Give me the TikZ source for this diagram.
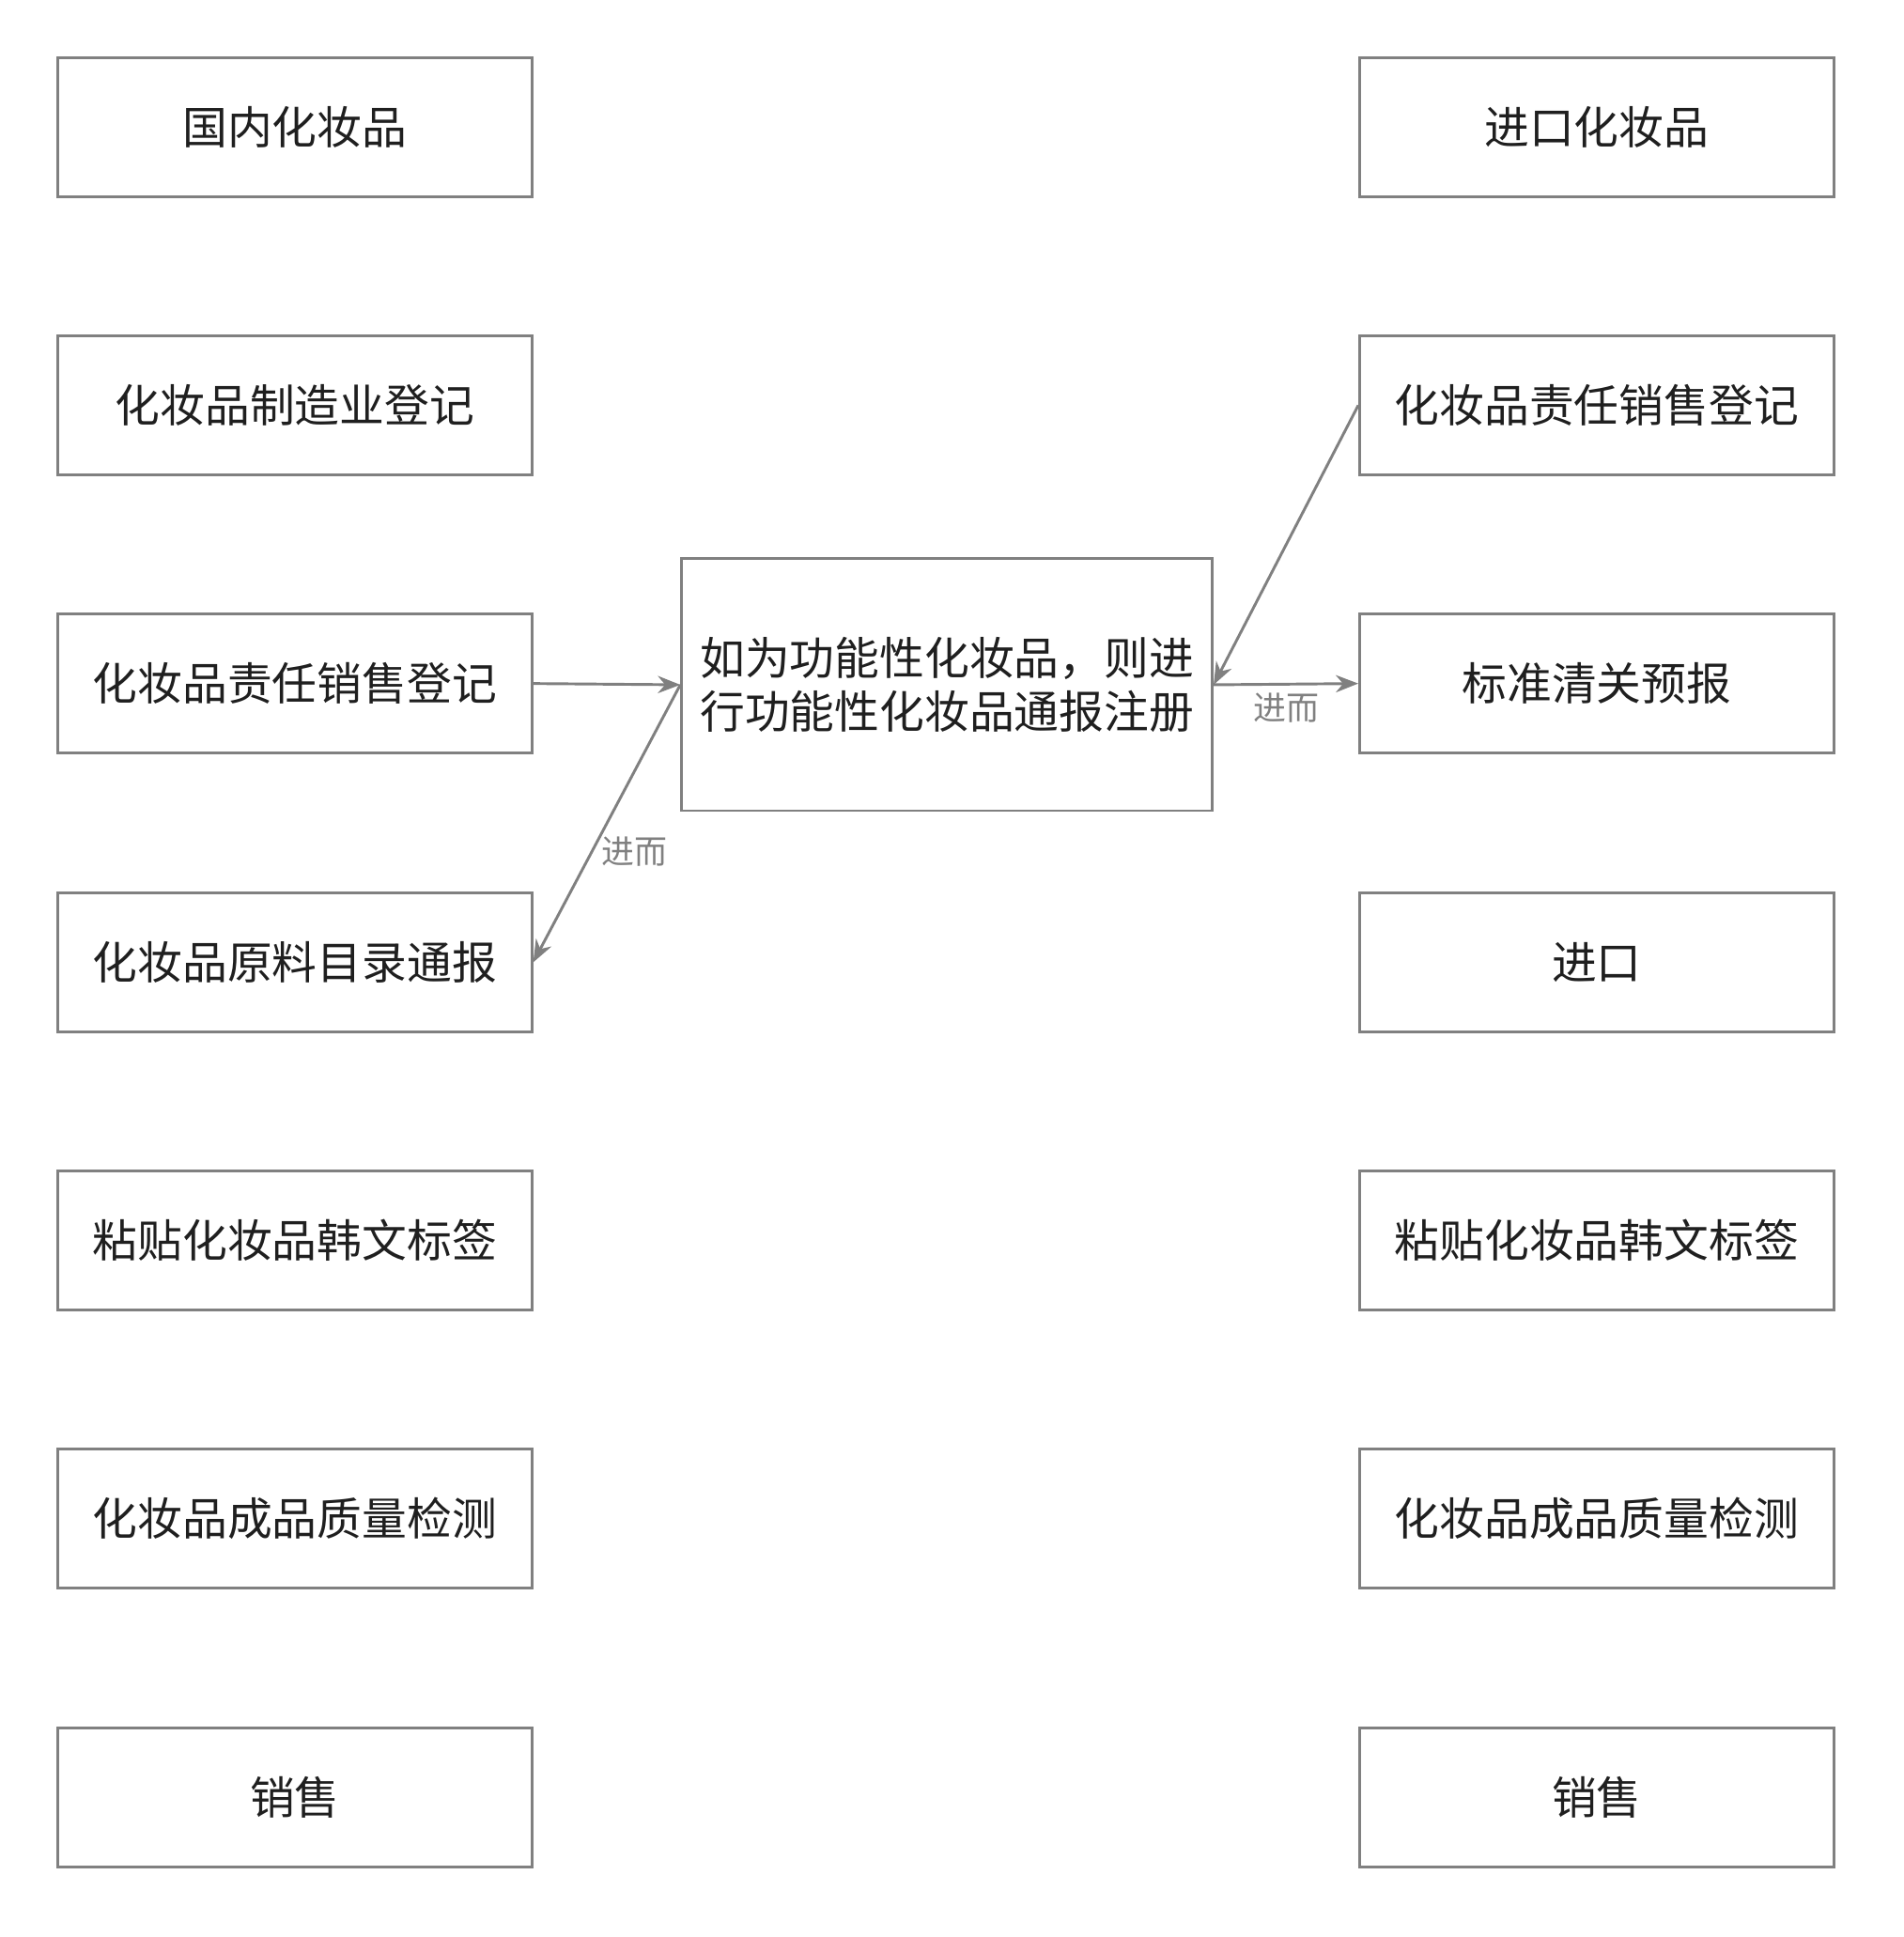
\documentclass[tikz,border=0pt]{standalone}
\usepackage{fontspec}
\setmainfont{Noto Sans CJK SC}
\usetikzlibrary{arrows.meta}
\definecolor{ln}{HTML}{808080}
\definecolor{tx}{HTML}{1F1F1F}
\tikzset{
 bx/.style={draw=ln,line width=3.2pt,minimum width=19.3cm,minimum height=5.65cm,inner sep=0pt,text=tx,font=\fontsize{52}{62}\selectfont},
 ar/.style={draw=ln,line width=3.2pt,-{Stealth[length=26pt,width=20pt]}},
 lb/.style={text=ln,font=\fontsize{38}{44}\selectfont}
}
\begin{document}
\begin{tikzpicture}[x=0.05cm,y=-0.05cm]
\useasboundingbox (0,0) rectangle (1550,1577);
\foreach \n/\y/\t in {L1/103.5/国内化妆品,L2/330/化妆品制造业登记,L3/556.5/化妆品责任销售登记,L4/783.5/化妆品原料目录通报,L5/1010/粘贴化妆品韩文标签,L6/1236.5/化妆品成品质量检测,L7/1463.5/销售}
  \node[bx] (\n) at (240,\y) {\t};
\foreach \n/\y/\t in {R1/103.5/进口化妆品,R2/330/化妆品责任销售登记,R3/556.5/标准清关预报,R4/783.5/进口,R5/1010/粘贴化妆品韩文标签,R6/1236.5/化妆品成品质量检测,R7/1463.5/销售}
  \node[bx] (\n) at (1300,\y) {\t};
\node[bx,minimum width=21.6cm,minimum height=10.25cm,align=left] (C) at (771,557.5) {如为功能性化妆品，则进\\行功能性化妆品通报注册};
\draw[ar] (L3.east) -- (C.west);
\draw[ar] (C.west) -- (L4.east) node[lb,pos=0.6,right=6pt] {进而};
\draw[ar] (C.east) -- (R3.west) node[lb,midway,below=6pt] {进而};
\draw[ar] (R2.west) -- (C.east);
\end{tikzpicture}
\end{document}
